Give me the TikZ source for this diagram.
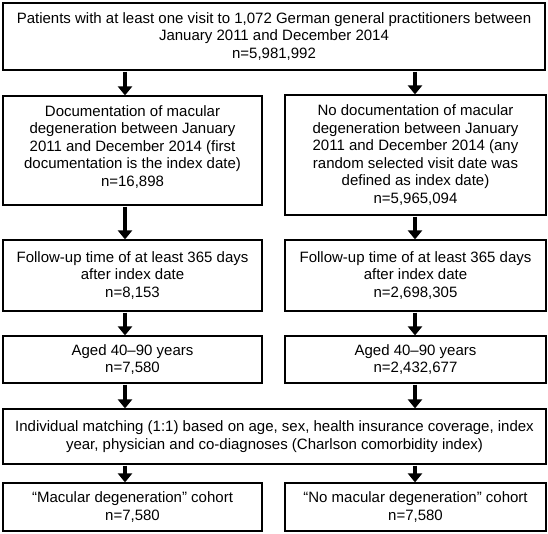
\documentclass[tikz,border=0pt]{standalone}
\usepackage{fontspec}
\setmainfont{Liberation Sans}
\usetikzlibrary{arrows.meta}
\begin{document}
\begin{tikzpicture}[x=1pt,y=-1pt,
  box/.style={draw, line width=1.2pt, align=center, inner sep=0pt,
    font=\fontsize{15}{17.5}\selectfont},
  arr/.style={line width=4.6pt, -{Triangle[width=14pt,length=9pt]}, shorten <=1pt}]
\useasboundingbox (0,0) rectangle (548,533);
\coordinate (xL) at (125,0);
\coordinate (xR) at (415,0);
\node[box, minimum width=542pt, minimum height=67pt] (top) at (274,36.5)
  {Patients with at least one visit to 1,072 German general practitioners between\\
   January 2011 and December 2014\\ n=5,981,992};
\node[box, minimum width=259pt, minimum height=109pt, text depth=9pt] (docL) at (132.5,150.5)
  {Documentation of macular\\ degeneration between January\\ 2011 and December 2014 (first\\
   documentation is the index date)\\ n=16,898};
\node[box, minimum width=261pt, minimum height=120pt] (docR) at (415.5,155)
  {No documentation of macular\\ degeneration between January\\ 2011 and December 2014 (any\\
   random selected visit date was\\ defined as index date)\\ n=5,965,094};
\node[box, minimum width=259pt, minimum height=71pt] (fuL) at (132.5,275.5)
  {Follow-up time of at least 365 days\\ after index date\\ n=8,153};
\node[box, minimum width=261pt, minimum height=71pt] (fuR) at (415.5,275.5)
  {Follow-up time of at least 365 days\\ after index date\\ n=2,698,305};
\node[box, minimum width=259pt, minimum height=47pt] (agL) at (132.5,359.5)
  {Aged 40–90 years\\ n=7,580};
\node[box, minimum width=261pt, minimum height=47pt] (agR) at (415.5,359.5)
  {Aged 40–90 years\\ n=2,432,677};
\node[box, minimum width=543pt, minimum height=55pt] (match) at (274.5,436.5)
  {Individual matching (1:1) based on age, sex, health insurance coverage, index\\
   year, physician and co-diagnoses (Charlson comorbidity index)};
\node[box, minimum width=259pt, minimum height=48pt] (coL) at (132.5,507)
  {“Macular degeneration” cohort\\ n=7,580};
\node[box, minimum width=261pt, minimum height=48pt] (coR) at (415.5,507)
  {“No macular degeneration” cohort\\ n=7,580};
\draw[arr] (top.south -| xL) -- (docL.north -| xL);
\draw[arr] (top.south -| xR) -- (docR.north -| xR);
\draw[arr] (docL.south -| xL) -- (fuL.north -| xL);
\draw[arr] (docR.south -| xR) -- (fuR.north -| xR);
\draw[arr] (fuL.south -| xL) -- (agL.north -| xL);
\draw[arr] (fuR.south -| xR) -- (agR.north -| xR);
\draw[arr] (agL.south -| xL) -- (match.north -| xL);
\draw[arr] (agR.south -| xR) -- (match.north -| xR);
\draw[arr] (match.south -| xL) -- (coL.north -| xL);
\draw[arr] (match.south -| xR) -- (coR.north -| xR);
\end{tikzpicture}
\end{document}
